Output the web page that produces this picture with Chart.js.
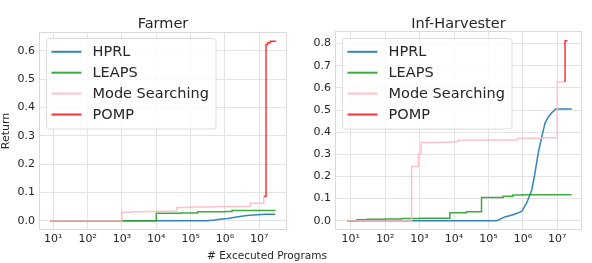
<!DOCTYPE html>
<html>
<head>
<meta charset="utf-8">
<script src="https://cdn.jsdelivr.net/npm/chart.js@4.4.0/dist/chart.umd.min.js"></script>
<style>
  body { margin: 0; background: #fff; }
  #wrap { position: relative; width: 592px; height: 263px; }
  .panel { position: absolute; top: 0; width: 296px; height: 263px; }
  #xlabel { position: absolute; left: 167px; width: 200px; top: 249px; text-align: center;
            font: 10.5px 'DejaVu Sans'; color: #262626; line-height: 12px; }
</style>
</head>
<body>
<div id="wrap">
  <div class="panel" style="left:0"><canvas id="farmer"></canvas></div>
  <div class="panel" style="left:296px"><canvas id="harvester"></canvas></div>
  <div id="xlabel"># Excecuted Programs</div>
</div>
<script>
const seriesNames = ['HPRL', 'LEAPS', 'Mode Searching', 'POMP'];
const seriesColors = ['rgba(31,119,180,0.9)', 'rgba(44,160,44,0.9)', 'rgba(255,182,193,0.85)', 'rgba(255,0,0,0.8)'];
const xTicks = [1e1, 1e2, 1e3, 1e4, 1e5, 1e6, 1e7];
const supers = ['⁰', '¹', '²', '³', '⁴', '⁵', '⁶', '⁷', '⁸', '⁹'];
const farmerYTicks = [0, 0.1, 0.2, 0.3, 0.4, 0.5, 0.6];
const harvYTicks = [0, 0.1, 0.2, 0.3, 0.4, 0.5, 0.6, 0.7, 0.8];

// Farmer
const farmerHprlX = [8, 3e5, 5e5, 7e5, 1.2e6, 2.2e6, 4.3e6, 9e6, 1.6e7, 2.9e7];
const farmerHprlY = [0, 0, 0.002, 0.005, 0.008, 0.013, 0.018, 0.021, 0.023, 0.023];
const farmerLeapsX = [8, 1e4, 5e4, 1.6e5, 1e6, 1.6e6, 2.9e7];
const farmerLeapsY = [0, 0.026, 0.027, 0.031, 0.032, 0.036, 0.037];
const farmerModeX = [8, 1e3, 2e3, 5e3, 1.5e4, 4e4, 1e5, 5e5, 5.5e6, 1.35e7, 1.45e7];
const farmerModeY = [0, 0.03, 0.031, 0.032, 0.033, 0.046, 0.048, 0.05, 0.061, 0.085, 0.085];
const farmerPompX = [1.4e7, 1.57e7, 1.75e7, 2.1e7, 2.9e7];
const farmerPompY = [0.086, 0.622, 0.628, 0.633, 0.636];

// Inf-Harvester
const harvHprlX = [8, 1.74e5, 3.0e5, 5.2e5, 9.3e5, 1.29e6, 1.82e6, 2.24e6, 2.82e6, 3.55e6, 4.37e6, 5.5e6, 6.9e6, 9.1e6, 2.63e7];
const harvHprlY = [0, 0, 0.017, 0.027, 0.042, 0.08, 0.14, 0.215, 0.31, 0.38, 0.44, 0.47, 0.488, 0.505, 0.505];
const harvLeapsX = [8, 15, 30, 100, 300, 1000, 7.6e3, 2.3e4, 6.3e4, 2.7e5, 5.1e5, 1e6, 2.6e7];
const harvLeapsY = [0, 0.004, 0.006, 0.008, 0.01, 0.011, 0.036, 0.04, 0.105, 0.111, 0.116, 0.117, 0.117];
const harvModeX = [8, 590, 920, 1100, 3e3, 7.6e3, 1.3e4, 1e5, 7e5, 4e6, 1e7, 1.6e7];
const harvModeY = [0, 0.245, 0.3, 0.353, 0.354, 0.357, 0.363, 0.365, 0.372, 0.375, 0.627, 0.627];
const harvPompX = [1.6e7, 1.68e7, 1.95e7];
const harvPompY = [0.63, 0.813, 0.813];

Chart.defaults.font.family = 'DejaVu Sans';
Chart.defaults.color = '#262626';

const GRID = '#e3e3e3';

const panelDecor = {
  id: 'panelDecor',
  beforeDatasetsDraw(chart) {
    const a = chart.chartArea, ctx = chart.ctx;
    ctx.save();
    ctx.strokeStyle = '#dadada';
    ctx.lineWidth = 1;
    ctx.strokeRect(a.left + 0.5, a.top + 0.5, a.right - a.left - 1, a.bottom - a.top - 1);
    ctx.restore();
  },
  afterDraw(chart, args, opts) {
    const a = chart.chartArea, ctx = chart.ctx;
    ctx.save();
    // title
    ctx.font = '14.5px "DejaVu Sans"';
    ctx.fillStyle = '#262626';
    ctx.textAlign = 'center';
    ctx.textBaseline = 'alphabetic';
    ctx.fillText(opts.title, (a.left + a.right) / 2, 27.5);

    // legend
    const x0 = a.left + 7.5, y0 = 38.5, w = 169.5, h = 90.5, r = 3;
    ctx.beginPath();
    ctx.moveTo(x0 + r, y0);
    ctx.arcTo(x0 + w, y0, x0 + w, y0 + h, r);
    ctx.arcTo(x0 + w, y0 + h, x0, y0 + h, r);
    ctx.arcTo(x0, y0 + h, x0, y0, r);
    ctx.arcTo(x0, y0, x0 + w, y0, r);
    ctx.closePath();
    ctx.fillStyle = 'rgba(255,255,255,0.8)';
    ctx.fill();
    ctx.strokeStyle = '#dcdcdc';
    ctx.lineWidth = 1;
    ctx.stroke();

    ctx.font = '14.5px "DejaVu Sans"';
    ctx.textAlign = 'left';
    ctx.textBaseline = 'middle';
    chart.data.datasets.forEach((ds, i) => {
      const y = y0 + 13.3 + i * 20.9;
      ctx.strokeStyle = ds.borderColor;
      ctx.lineWidth = 2;
      ctx.beginPath();
      ctx.moveTo(x0 + 5, y);
      ctx.lineTo(x0 + 35, y);
      ctx.stroke();
      ctx.fillStyle = '#262626';
      ctx.fillText(ds.label, x0 + 46, y + 0.5);
    });
    ctx.restore();
  }
};

function toPoints(xs, ys) {
  return xs.map((x, i) => ({ x: x, y: ys[i] }));
}

function makePanel(id, title, xsList, ysList, xLogMin, xLogMax, yMin, yMax, yTicks, padTop, padRight, yTitle) {
  const datasets = seriesNames.map((name, i) => ({
    label: name,
    data: toPoints(xsList[i], ysList[i]),
    borderColor: seriesColors[i],
    borderWidth: 1.5,
    pointRadius: 0,
    fill: false,
    stepped: i === 0 ? false : true,
    order: 4 - i
  }));

  return new Chart(document.getElementById(id), {
    type: 'line',
    data: { datasets: datasets },
    options: {
      responsive: true,
      maintainAspectRatio: false,
      animation: false,
      layout: { padding: { top: padTop, right: padRight, left: 0, bottom: 0 } },
      plugins: {
        legend: { display: false },
        tooltip: { enabled: false },
        panelDecor: { title: title }
      },
      scales: {
        x: {
          type: 'logarithmic',
          min: Math.pow(10, xLogMin),
          max: Math.pow(10, xLogMax),
          bounds: 'data',
          grid: { color: GRID, drawTicks: false },
          border: { display: false },
          afterBuildTicks: s => { s.ticks = xTicks.map(v => ({ value: v })); },
          afterFit: s => { s.height = 33; },
          ticks: {
            autoSkip: false,
            maxRotation: 0,
            padding: 3,
            font: { size: 11 },
            callback: v => '10' + String(Math.round(Math.log10(v))).split('').map(d => supers[+d]).join('')
          }
        },
        y: {
          min: yMin,
          max: yMax,
          grid: { color: GRID, drawTicks: false },
          border: { display: false },
          afterBuildTicks: s => { s.ticks = yTicks.map(v => ({ value: v })); },
          afterFit: s => { s.width = 39; },
          title: { display: !!yTitle, text: yTitle || '', font: { size: 11 }, padding: 0 },
          ticks: {
            padding: 4,
            font: { size: 11 },
            callback: v => v.toFixed(1)
          }
        }
      }
    },
    plugins: [panelDecor]
  });
}

makePanel('farmer', 'Farmer',
  [farmerHprlX, farmerLeapsX, farmerModeX, farmerPompX],
  [farmerHprlY, farmerLeapsY, farmerModeY, farmerPompY],
  0.583, 7.807, -0.033, 0.666, farmerYTicks, 32, 9, 'Return');

makePanel('harvester', 'Inf-Harvester',
  [harvHprlX, harvLeapsX, harvModeX, harvPompX],
  [harvHprlY, harvLeapsY, harvModeY, harvPompY],
  0.544, 7.717, -0.042, 0.857, harvYTicks, 31, 10, '');
</script>
</body>
</html>
